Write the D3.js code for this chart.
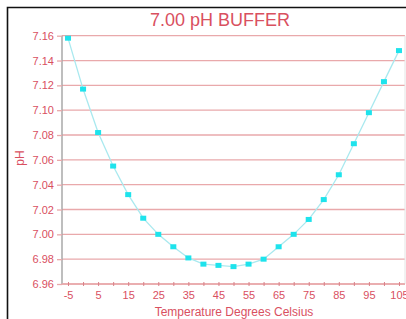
<!DOCTYPE html>
<html>
<head>
<meta charset="utf-8">
<script src="https://cdn.jsdelivr.net/npm/d3@7"></script>
<style>
  body { margin: 0; background: #fff; }
  svg text { font-family: "Liberation Sans", Arial, sans-serif; fill: #d9505f; }
</style>
</head>
<body>
<script>
const temps = [-5, 0, 5, 10, 15, 20, 25, 30, 35, 40, 45, 50, 55, 60, 65, 70, 75, 80, 85, 90, 95, 100, 105]
const ph = [7.158, 7.117, 7.082, 7.055, 7.032, 7.013, 7.000, 6.990, 6.981, 6.976, 6.975, 6.974, 6.976,
            6.980, 6.990, 7.000, 7.012, 7.028, 7.048, 7.073, 7.098, 7.123, 7.148]
const yTicks = [6.96, 6.98, 7.00, 7.02, 7.04, 7.06, 7.08, 7.10, 7.12, 7.14, 7.16]
const xTicks = d3.range(-5, 106, 5)
const xLabels = [-5, 5, 15, 25, 35, 45, 55, 65, 75, 85, 95, 105]

const width = 406, height = 319
const red = '#d9505f'
const grid = '#e9a9ab'

const svg = d3.select('body').append('svg').attr('width', width).attr('height', height)

const x = d3.scaleLinear().domain([-7, 107]).range([62, 405])
const y = d3.scaleLinear().domain([6.96, 7.16]).range([284, 35.7])

// frame
svg.append('path').attr('d', `M7.5,${height} V7.5 H${width}`)
    .attr('fill', 'none').attr('stroke', '#111').attr('stroke-width', 1.6)

// horizontal grid
svg.append('g').selectAll('line').data(yTicks).join('line')
    .attr('x1', x.range()[0]).attr('x2', x.range()[1])
    .attr('y1', d => y(d)).attr('y2', d => y(d))
    .attr('stroke', grid).attr('stroke-width', 1.3)

// right edge
svg.append('line').attr('x1', 405).attr('x2', 405).attr('y1', y(7.16)).attr('y2', y(6.96))
    .attr('stroke', '#e4e4e4')

// y axis
const yAxis = svg.append('g').attr('transform', `translate(${x.range()[0]},0)`)
    .call(d3.axisLeft(y).tickValues(yTicks).tickFormat(d3.format('.2f')).tickSize(5).tickPadding(3))
yAxis.select('.domain').attr('stroke', '#a8a8a8').attr('stroke-width', 1.5).attr('d', `M0,${y(7.16)}V${y(6.96)}`)
yAxis.selectAll('.tick line').attr('stroke', grid).attr('stroke-width', 1.3)
yAxis.selectAll('.tick text').attr('font-size', 11).attr('fill', red).attr('font-family', null)

// x axis
const xAxis = svg.append('g').attr('transform', `translate(0,${y(6.96)})`)
    .call(d3.axisBottom(x).tickValues(xTicks).tickSize(2).tickPadding(5)
        .tickFormat(d => xLabels.includes(d) ? d : ''))
xAxis.select('.domain').attr('stroke', grid).attr('stroke-width', 1.3)
    .attr('d', `M${x.range()[0]},0H${x.range()[1]}`)
xAxis.selectAll('.tick line').attr('y1', -2).attr('y2', 2).attr('stroke', '#d98088')
xAxis.selectAll('.tick text').attr('font-size', 11).attr('fill', red).attr('font-family', null)

// curve
svg.append('path').datum(temps.map((t, i) => [t, ph[i]]))
    .attr('fill', 'none').attr('stroke', '#a9e9ef').attr('stroke-width', 1.3)
    .attr('d', d3.line().x(d => x(d[0])).y(d => y(d[1])))

svg.append('g').selectAll('rect').data(temps).join('rect')
    .attr('x', (d) => x(d) - 3).attr('y', (d, i) => y(ph[i]) - 2.5)
    .attr('width', 6).attr('height', 5).attr('fill', '#1ee3ec')

// titles
svg.append('text').attr('x', 220).attr('y', 26).attr('text-anchor', 'middle')
    .attr('font-size', 18).text('7.00 pH BUFFER')
svg.append('text').attr('x', 234).attr('y', 316).attr('text-anchor', 'middle')
    .attr('font-size', 12).text('Temperature Degrees Celsius')
svg.append('text').attr('transform', 'translate(24,158) rotate(-90)').attr('text-anchor', 'middle')
    .attr('font-size', 12).text('pH')
</script>
</body>
</html>
